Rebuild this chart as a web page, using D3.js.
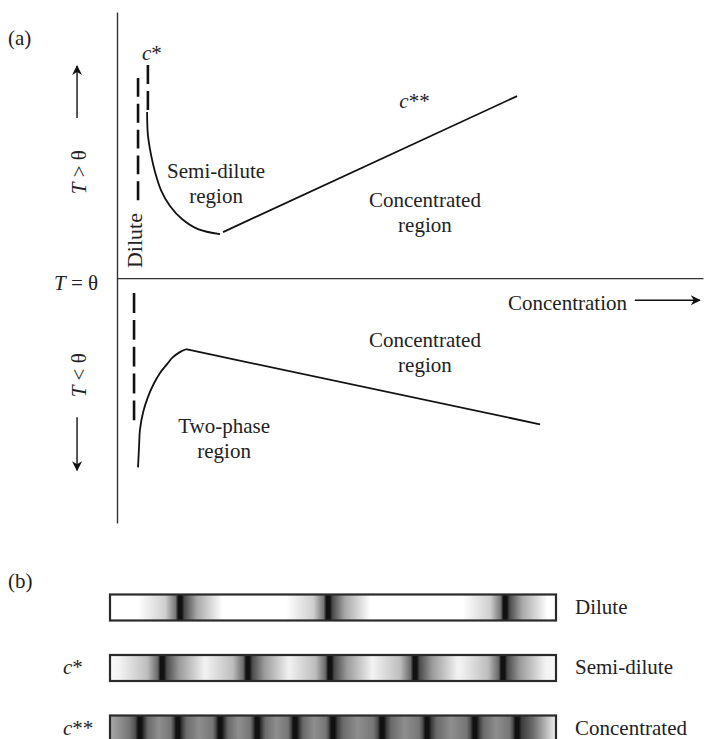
<!DOCTYPE html>
<html>
<head>
<meta charset="utf-8">
<script src="https://cdn.jsdelivr.net/npm/d3@7"></script>
<style>
  body { margin: 0; background: white; }
  svg text { font-family: "Liberation Serif", "Times New Roman", serif; fill: #222; }
</style>
</head>
<body>
<div id="chart"></div>
<script>
// (a) phase diagram, units: concentration (x) and T - theta (y)
const upperCurve = [[1.13, 6.24], [1.16, 5.38], [1.28, 4.62], [1.43, 3.98], [1.65, 3.31],
  [1.99, 2.71], [2.44, 2.22], [3.04, 1.84], [3.87, 1.65]];
const upperLine = [[3.98, 1.73], [15.02, 6.84]];
const lowerCurve = [[0.79, -7.11], [0.83, -6.28], [0.86, -5.71], [0.98, -5.04], [1.16, -4.47],
  [1.39, -3.95], [1.61, -3.57], [1.88, -3.23], [2.10, -2.97], [2.36, -2.78], [2.59, -2.67]];
const lowerLine = [[2.59, -2.67], [15.88, -5.49]];
const diluteUpper = [[0.79, 7.52], [0.79, 2.93]];
const diluteLower = [[0.64, -0.56], [0.64, -5.34]];
const cStarLine = [[1.16, 8.01], [1.16, 6.32]];

// (b) dark band positions along each strip (0-100)
const barNames = ["Dilute", "Semi-dilute", "Concentrated"];
const barMarks = ["", "c*", "c**"];
const diluteBands = [15.7, 48.9, 88.6];
const semiBands = [11.7, 30.9, 49.3, 68.4, 88.1];
const concBands = [6.7, 15.2, 24.7, 33.0, 41.5, 50.0, 61.0, 71.1, 81.8, 91.3];

const dimensions = { width: 709, height: 739 };

const svg = d3.select("#chart")
  .append("svg")
  .attr("width", dimensions.width)
  .attr("height", dimensions.height)
  .style("background-color", "white");

const xScale = d3.scaleLinear().domain([0, 22]).range([117, 703]);
const yScale = d3.scaleLinear().domain([-9.2, 10]).range([523, 12]);

const defs = svg.append("defs");
defs.append("marker")
  .attr("id", "arrow")
  .attr("viewBox", "0 -5 10 10")
  .attr("refX", 9)
  .attr("refY", 0)
  .attr("markerUnits", "userSpaceOnUse")
  .attr("markerWidth", 13)
  .attr("markerHeight", 10)
  .attr("orient", "auto")
  .append("path")
  .attr("d", "M0,-5L10,0L0,5L3,0Z")
  .attr("fill", "#111");

// axes (no ticks, only the domain lines)
svg.append("g")
  .attr("transform", `translate(${xScale(0)},0)`)
  .call(d3.axisLeft(yScale).tickValues([]).tickSizeOuter(0))
  .call((g) => g.select(".domain").attr("stroke", "#333").attr("stroke-width", 1.4));

svg.append("g")
  .attr("transform", `translate(0,${yScale(0)})`)
  .call(d3.axisBottom(xScale).tickValues([]).tickSizeOuter(0))
  .call((g) => g.select(".domain").attr("stroke", "#333").attr("stroke-width", 1.4));

const line = d3.line().x((d) => xScale(d[0])).y((d) => yScale(d[1]));
const smooth = d3.line().x((d) => xScale(d[0])).y((d) => yScale(d[1])).curve(d3.curveCatmullRom);

svg.selectAll(".solid")
  .data([upperLine, lowerLine])
  .join("path")
  .attr("class", "solid")
  .attr("d", line)
  .attr("fill", "none")
  .attr("stroke", "#111")
  .attr("stroke-width", 1.8);

svg.selectAll(".curve")
  .data([upperCurve, lowerCurve])
  .join("path")
  .attr("class", "curve")
  .attr("d", smooth)
  .attr("fill", "none")
  .attr("stroke", "#111")
  .attr("stroke-width", 1.8);

// dashes sized so that each dashed line ends on a full dash
svg.selectAll(".dash")
  .data([diluteUpper, diluteLower, cStarLine])
  .join("path")
  .attr("class", "dash")
  .attr("d", line)
  .attr("fill", "none")
  .attr("stroke", "#111")
  .attr("stroke-width", 2.6)
  .attr("stroke-dasharray", function () {
    const l = this.getTotalLength();
    const gap = 7;
    const n = Math.max(1, Math.round((l + gap) / 26));
    return `${(l - (n - 1) * gap) / n},${gap}`;
  });

// direction arrows
const arrows = [
  [[-1.5, 6.02], [-1.5, 7.97]],
  [[-1.5, -5.23], [-1.5, -7.22]],
  [[19.44, -0.83], [21.88, -0.83]],
];
svg.selectAll(".arrow")
  .data(arrows)
  .join("path")
  .attr("class", "arrow")
  .attr("d", line)
  .attr("stroke", "#111")
  .attr("stroke-width", 1.4)
  .attr("marker-end", "url(#arrow)");

// region labels
const regionLabels = [
  { lines: ["Semi-dilute", "region"], x: 3.72, y: 3.76 },
  { lines: ["Concentrated", "region"], x: 11.56, y: 2.67 },
  { lines: ["Concentrated", "region"], x: 11.56, y: -2.59 },
  { lines: ["Two-phase", "region"], x: 4.02, y: -5.83 },
];
svg.selectAll(".region")
  .data(regionLabels)
  .join("text")
  .attr("class", "region")
  .attr("x", (d) => xScale(d.x))
  .attr("y", (d) => yScale(d.y))
  .attr("text-anchor", "middle")
  .attr("font-size", 21)
  .selectAll("tspan")
  .data((d) => d.lines.map((t) => ({ t, x: d.x })))
  .join("tspan")
  .attr("x", (d) => xScale(d.x))
  .attr("dy", (d, i) => (i === 0 ? 0 : 24.5))
  .text((d) => d.t);

const txt = svg.append("g").attr("font-size", 21);

txt.append("text").attr("x", xScale(-4.09)).attr("y", yScale(8.76)).text("(a)");
txt.append("text").attr("x", xScale(14.68)).attr("y", yScale(-1.2)).text("Concentration");

const cs = txt.append("text").attr("x", xScale(0.94)).attr("y", yScale(8.2));
cs.append("tspan").attr("font-style", "italic").text("c");
cs.append("tspan").text("*");

const css = txt.append("text").attr("x", xScale(10.6)).attr("y", yScale(6.39));
css.append("tspan").attr("font-style", "italic").text("c");
css.append("tspan").text("**");

const teq = txt.append("text").attr("x", xScale(-0.71)).attr("y", yScale(-0.45)).attr("text-anchor", "end");
teq.append("tspan").attr("font-style", "italic").text("T");
teq.append("tspan").text(" = θ");

const tLabels = [{ y: 3.98, sign: " > θ" }, { y: -3.65, sign: " < θ" }];
tLabels.forEach((d) => {
  const t = txt.append("text")
    .attr("transform", `translate(${xScale(-1.16)},${yScale(d.y)}) rotate(-90)`)
    .attr("text-anchor", "middle");
  t.append("tspan").attr("font-style", "italic").text("T");
  t.append("tspan").text(d.sign);
});

txt.append("text")
  .attr("transform", `translate(${xScale(0.94)},${yScale(0.38)}) rotate(-90)`)
  .attr("font-size", 22)
  .text("Dilute");

// (b) strips
const barScale = d3.scaleLinear().domain([0, 100]).range([110, 556]);
const rowScale = d3.scalePoint().domain(barNames).range([607.5, 728.5]);
const toOffset = d3.scaleLinear().domain([0, 100]).range([0, 1]).clamp(true);
const barHeight = 26;

const barStyles = [
  { bands: diluteBands, halo: 9.5, start: "#fff", end: "#fff", base: "#fff",
    light: "#cfcfcf", mid: "#777", core: "#111", midR: "#4a4a4a", lightR: "#a8a8a8" },
  { bands: semiBands, halo: 9.5, start: "#fafafa", end: "#fafafa", base: "#f2f2f2",
    light: "#bdbdbd", mid: "#6a6a6a", core: "#111", midR: "#4a4a4a", lightR: "#9a9a9a" },
  { bands: concBands, halo: 9.5, start: "#a8a8a8", end: "#f2f2f2", base: "#8e8e8e",
    light: "#767676", mid: "#4e4e4e", core: "#111", midR: "#3c3c3c", lightR: "#6a6a6a" },
];

function stopsFor(s) {
  const stops = [{ o: 0, c: s.start }];
  s.bands.forEach((p, i) => {
    const prev = i === 0 ? 0 : (s.bands[i - 1] + p) / 2;
    const next = i === s.bands.length - 1 ? 100 : (p + s.bands[i + 1]) / 2;
    const left = Math.max(prev, p - s.halo);
    const right = Math.min(next, p + s.halo);
    stops.push({ o: left, c: left === 0 ? s.start : s.base });
    stops.push({ o: p - Math.max(0.35 * (p - left), 1.6), c: s.light });
    stops.push({ o: p - 1.0, c: s.mid });
    stops.push({ o: p - 0.4, c: s.core });
    stops.push({ o: p + 0.4, c: s.core });
    stops.push({ o: p + 1.0, c: s.midR });
    stops.push({ o: p + Math.max(0.4 * (right - p), 1.8), c: s.lightR });
    stops.push({ o: right, c: right === 100 ? s.end : s.base });
  });
  stops.push({ o: 100, c: s.end });
  return stops;
}

barStyles.forEach((s, i) => {
  defs.append("linearGradient")
    .attr("id", `strip${i}`)
    .attr("x1", 0).attr("x2", 1).attr("y1", 0).attr("y2", 0)
    .selectAll("stop")
    .data(stopsFor(s))
    .join("stop")
    .attr("offset", (d) => toOffset(d.o))
    .attr("stop-color", (d) => d.c);
});

svg.selectAll(".strip")
  .data(barNames)
  .join("rect")
  .attr("class", "strip")
  .attr("x", barScale(0))
  .attr("y", (d) => rowScale(d) - barHeight / 2)
  .attr("width", barScale(100) - barScale(0))
  .attr("height", barHeight)
  .attr("fill", (d, i) => `url(#strip${i})`)
  .attr("stroke", "#2a2a2a")
  .attr("stroke-width", 2.2);

svg.selectAll(".stripName")
  .data(barNames)
  .join("text")
  .attr("class", "stripName")
  .attr("x", barScale(100) + 19)
  .attr("y", (d) => rowScale(d) + 6)
  .attr("font-size", 21)
  .text((d) => d);

const marks = svg.selectAll(".stripMark")
  .data(barNames.filter((d, i) => barMarks[i]))
  .join("text")
  .attr("class", "stripMark")
  .attr("x", 63)
  .attr("y", (d) => rowScale(d) + 6)
  .attr("font-size", 21);
marks.append("tspan").attr("font-style", "italic").text("c");
marks.append("tspan").text((d) => barMarks[barNames.indexOf(d)].slice(1));

svg.append("text").attr("x", 8).attr("y", 588).attr("font-size", 21).text("(b)");
</script>
</body>
</html>
